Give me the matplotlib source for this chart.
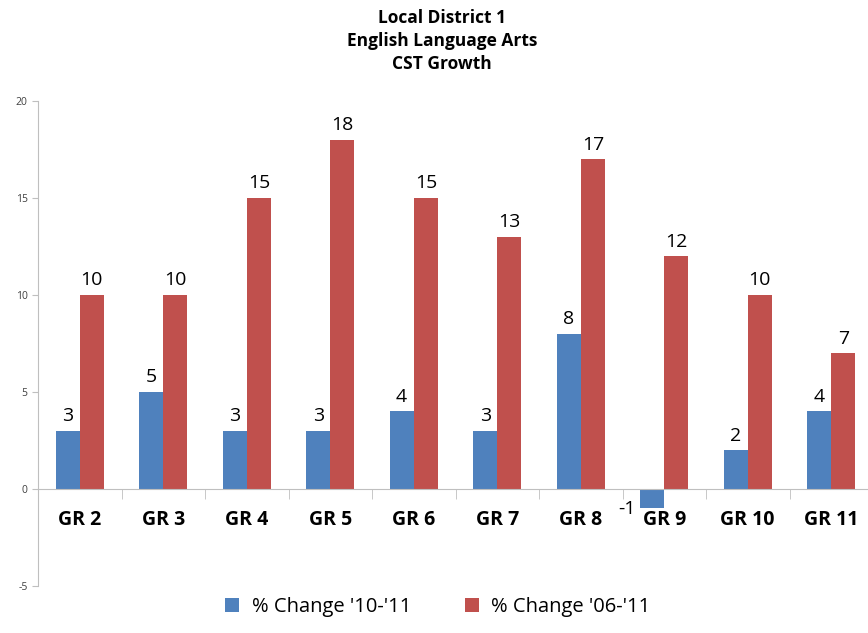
import matplotlib.pyplot as plt
import numpy as np

grades = ['GR 2', 'GR 3', 'GR 4', 'GR 5', 'GR 6', 'GR 7', 'GR 8', 'GR 9', 'GR 10', 'GR 11']
chg_10_11 = [3, 5, 3, 3, 4, 3, 8, -1, 2, 4]
chg_06_11 = [10, 10, 15, 18, 15, 13, 17, 12, 10, 7]
series_names = ["% Change '10-'11", "% Change '06-'11"]
colors = ['#4F81BD', '#C0504D']

plt.rcParams['font.family'] = ['Open Sans', 'DejaVu Sans']
plt.rcParams['axes.unicode_minus'] = False

fig = plt.figure(figsize=(8.68, 6.33), dpi=100)
# axes spans x 38..873 px, y 101..586 px
ax = fig.add_axes([38 / 868, 1 - 586 / 633, 835 / 868, 485 / 633])

x = np.arange(len(grades))
w = 0.29
b1 = ax.bar(x - w / 2, chg_10_11, width=w, color=colors[0], label=series_names[0])
b2 = ax.bar(x + w / 2, chg_06_11, width=w, color=colors[1], label=series_names[1])

for rect, v in zip(b1, chg_10_11):
    cx = rect.get_x() + rect.get_width() / 2
    if v >= 0:
        ax.annotate(str(v), (cx, v), xytext=(0, 4), textcoords='offset points',
                    ha='center', va='bottom', fontsize=14)
    else:
        ax.annotate(str(v), (rect.get_x(), 0), xytext=(-3, -8), textcoords='offset points',
                    ha='right', va='top', fontsize=14)
for rect, v in zip(b2, chg_06_11):
    cx = rect.get_x() + rect.get_width() / 2
    ax.annotate(str(v), (cx, v), xytext=(0, 4), textcoords='offset points',
                ha='center', va='bottom', fontsize=14)

ax.set_xlim(-0.5, len(grades) - 0.5)
ax.set_ylim(-5, 20)
ax.set_yticks([-5, 0, 5, 10, 15, 20])
ax.tick_params(axis='y', labelsize=7.5, length=4, color='#BFBFBF', labelcolor='#404040')

ax.spines['top'].set_visible(False)
ax.spines['right'].set_visible(False)
ax.spines['left'].set_color('#BFBFBF')
ax.spines['bottom'].set_color('#BFBFBF')
ax.spines['bottom'].set_position(('data', 0))

ax.set_xticks(x)
ax.set_xticklabels(grades, fontsize=14, fontweight='bold')
ax.tick_params(axis='x', which='major', length=0, pad=15)
ax.set_xticks(np.arange(0.5, len(grades) - 0.5, 1), minor=True)
ax.tick_params(axis='x', which='minor', length=7, color='#BFBFBF')

fig.text(442 / 868, 1 - 9 / 633, 'Local District 1\nEnglish Language Arts\nCST Growth',
         ha='center', va='top', fontsize=12.5, fontweight='bold', linespacing=1.35)

fig.legend(handles=[b1, b2], labels=series_names, loc='center', bbox_to_anchor=(438 / 868, 1 - 607 / 633),
           ncol=2, frameon=False, fontsize=14.5, handlelength=0.7, handleheight=0.7,
           columnspacing=2.7, handletextpad=0.6)

fig.savefig('out.png', dpi=100)
